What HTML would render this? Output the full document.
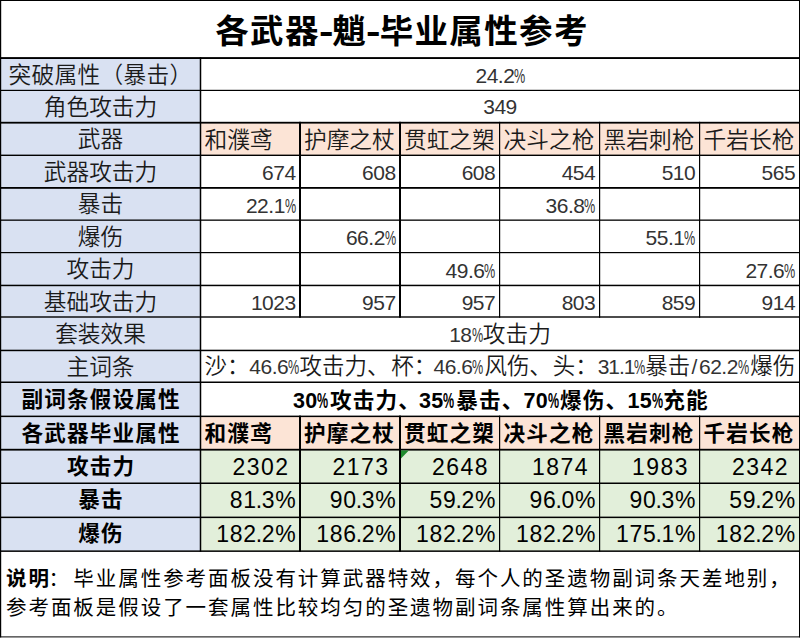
<!DOCTYPE html>
<html lang="zh-CN"><head><meta charset="utf-8"><title>各武器-魈-毕业属性参考</title>
<style>
html,body{margin:0;padding:0;background:#fff;}
body{width:801px;height:639px;position:relative;overflow:hidden;
 font-family:"Liberation Sans","Noto Sans CJK SC",sans-serif;color:#1a1a1a;}
svg{position:absolute;left:0;top:0;}
.c{position:absolute;display:flex;align-items:center;box-sizing:border-box;white-space:nowrap;line-height:1;}
.title{font-size:33.5px;font-weight:700;color:#000;letter-spacing:1.35px;}
.title .hy{display:inline-block;width:12.5px;text-align:center;letter-spacing:0;font-weight:700;transform:scaleX(1.3);}
.lab,.txt{font-size:22.7px;letter-spacing:0px;font-weight:350;}
.n{font-weight:400;color:#333;}
.bd{font-weight:700;color:#000;letter-spacing:1.15px;font-size:21.6px;}
.n{font-size:21px;letter-spacing:-0.5px;}
.nb{font-size:21.5px;letter-spacing:0.3px;}
.p{display:inline-block;font-style:normal;width:11.3px;transform:scaleX(0.6);transform-origin:0 50%;letter-spacing:0;}
.nb .p{width:11.5px;transform:scaleX(0.58);}
.gn{font-size:23px;letter-spacing:0.7px;color:#000;}
.note{position:absolute;white-space:nowrap;font-weight:400;font-size:20.5px;letter-spacing:1.95px;line-height:29px;color:#000;}
.note b{font-weight:700;}
.r10{font-size:22.45px;}
.r10 .n{letter-spacing:-0.5px;}
.r10 .p{width:11.3px;}
.sl{font-style:normal;}
.s{display:inline-block;}
.l1{letter-spacing:0.3px;}
.gi{letter-spacing:1.45px;}
.gn i{font-style:normal;margin-left:-1.0px;letter-spacing:-0.4px;}
</style></head>
<body>
<svg width="801" height="639" viewBox="0 0 801 639">
<rect x="0.60" y="58.05" width="199.90" height="493.10" fill="#D9E1F2"/>
<rect x="200.50" y="122.70" width="599.00" height="32.60" fill="#FCE4D6"/>
<rect x="200.50" y="416.35" width="599.00" height="33.35" fill="#FCE4D6"/>
<rect x="200.50" y="449.70" width="599.00" height="101.45" fill="#E2EFDA"/>
<rect x="0.00" y="0.00" width="800.00" height="1.00" fill="#000"/>
<rect x="0.00" y="57.10" width="800.00" height="1.90" fill="#000"/>
<rect x="0.00" y="89.80" width="800.00" height="1.20" fill="#000"/>
<rect x="0.00" y="121.80" width="800.00" height="1.80" fill="#000"/>
<rect x="0.00" y="154.60" width="800.00" height="1.40" fill="#000"/>
<rect x="0.00" y="187.00" width="800.00" height="1.80" fill="#000"/>
<rect x="0.00" y="219.50" width="800.00" height="1.30" fill="#000"/>
<rect x="0.00" y="252.00" width="800.00" height="1.20" fill="#000"/>
<rect x="0.00" y="284.70" width="800.00" height="1.50" fill="#000"/>
<rect x="0.00" y="316.30" width="800.00" height="1.40" fill="#000"/>
<rect x="0.00" y="349.70" width="800.00" height="1.50" fill="#000"/>
<rect x="0.00" y="381.50" width="800.00" height="1.50" fill="#000"/>
<rect x="0.00" y="415.60" width="800.00" height="1.50" fill="#000"/>
<rect x="0.00" y="448.80" width="800.00" height="1.80" fill="#000"/>
<rect x="0.00" y="482.50" width="800.00" height="1.50" fill="#000"/>
<rect x="0.00" y="516.60" width="800.00" height="1.50" fill="#000"/>
<rect x="0.00" y="550.40" width="800.00" height="1.50" fill="#000"/>
<rect x="0.00" y="636.40" width="800.00" height="1.00" fill="#000"/>
<rect x="0.00" y="0.00" width="1.20" height="637.40" fill="#000"/>
<rect x="799.00" y="0.00" width="1.00" height="637.40" fill="#000"/>
<rect x="199.75" y="57.10" width="1.50" height="494.80" fill="#000"/>
<rect x="299.00" y="121.80" width="2.00" height="195.90" fill="#000"/>
<rect x="299.00" y="415.60" width="2.00" height="136.30" fill="#000"/>
<rect x="399.00" y="121.80" width="2.00" height="195.90" fill="#000"/>
<rect x="399.00" y="415.60" width="2.00" height="136.30" fill="#000"/>
<rect x="499.00" y="121.80" width="1.20" height="195.90" fill="#000"/>
<rect x="499.00" y="415.60" width="1.20" height="136.30" fill="#000"/>
<rect x="599.00" y="121.80" width="1.20" height="195.90" fill="#000"/>
<rect x="599.00" y="415.60" width="1.20" height="136.30" fill="#000"/>
<rect x="699.00" y="121.80" width="1.20" height="195.90" fill="#000"/>
<rect x="699.00" y="415.60" width="1.20" height="136.30" fill="#000"/>
<path d="M401 450.6 L408.8 450.6 L401 458.6 Z" fill="#1f8b2f"/>
</svg>
<div class="c title" style="left:0.00px;width:800.00px;top:2.70px;height:57.55px;justify-content:center;margin-left:2.00px;">各武器<b class="hy">-</b>魈<b class="hy">-</b>毕业属性参考</div>
<div class="c lab l1" style="left:0.60px;width:199.90px;top:58.85px;height:32.35px;justify-content:center;">突破属性（暴击）</div>
<div class="c lab" style="left:0.60px;width:199.90px;top:91.20px;height:32.30px;justify-content:center;">角色攻击力</div>
<div class="c lab" style="left:0.60px;width:199.90px;top:123.50px;height:32.60px;justify-content:center;">武器</div>
<div class="c lab" style="left:0.60px;width:199.90px;top:156.10px;height:32.60px;justify-content:center;">武器攻击力</div>
<div class="c lab" style="left:0.60px;width:199.90px;top:188.70px;height:32.25px;justify-content:center;">暴击</div>
<div class="c lab" style="left:0.60px;width:199.90px;top:220.95px;height:32.45px;justify-content:center;">爆伤</div>
<div class="c lab" style="left:0.60px;width:199.90px;top:253.40px;height:32.85px;justify-content:center;">攻击力</div>
<div class="c lab" style="left:0.60px;width:199.90px;top:286.25px;height:31.55px;justify-content:center;">基础攻击力</div>
<div class="c lab" style="left:0.60px;width:199.90px;top:317.80px;height:33.45px;justify-content:center;">套装效果</div>
<div class="c lab" style="left:0.60px;width:199.90px;top:351.25px;height:31.80px;justify-content:center;">主词条</div>
<div class="c lab bd" style="left:0.60px;width:199.90px;top:382.65px;height:34.10px;justify-content:center;margin-left:0.50px;">副词条假设属性</div>
<div class="c lab bd" style="left:0.60px;width:199.90px;top:416.75px;height:33.35px;justify-content:center;margin-left:0.50px;">各武器毕业属性</div>
<div class="c lab bd" style="left:0.60px;width:199.90px;top:450.10px;height:33.55px;justify-content:center;margin-left:0.50px;">攻击力</div>
<div class="c lab bd" style="left:0.60px;width:199.90px;top:483.05px;height:34.10px;justify-content:center;margin-left:0.50px;">暴击</div>
<div class="c lab bd" style="left:0.60px;width:199.90px;top:517.15px;height:33.80px;justify-content:center;margin-left:0.50px;">爆伤</div>
<div class="c txt" style="left:200.50px;width:599.00px;top:59.05px;height:32.35px;justify-content:center;margin-left:0.60px;"><span class="n">24.2<i class="p">%</i></span></div>
<div class="c txt" style="left:200.50px;width:599.00px;top:90.80px;height:32.30px;justify-content:center;"><span class="n">349</span></div>
<div class="c txt" style="left:200.50px;width:99.50px;top:124.20px;height:32.60px;justify-content:flex-start;padding-left:4.00px;">和濮鸢</div>
<div class="c txt bd" style="left:200.50px;width:99.50px;top:416.75px;height:33.35px;justify-content:flex-start;padding-left:4.00px;">和濮鸢</div>
<div class="c txt" style="left:300.00px;width:100.00px;top:124.20px;height:32.60px;justify-content:flex-start;padding-left:4.00px;">护摩之杖</div>
<div class="c txt bd" style="left:300.00px;width:100.00px;top:416.75px;height:33.35px;justify-content:flex-start;padding-left:4.00px;">护摩之杖</div>
<div class="c txt" style="left:400.00px;width:99.60px;top:124.20px;height:32.60px;justify-content:flex-start;padding-left:4.00px;">贯虹之槊</div>
<div class="c txt bd" style="left:400.00px;width:99.60px;top:416.75px;height:33.35px;justify-content:flex-start;padding-left:4.00px;">贯虹之槊</div>
<div class="c txt" style="left:499.60px;width:100.00px;top:124.20px;height:32.60px;justify-content:flex-start;padding-left:4.00px;">决斗之枪</div>
<div class="c txt bd" style="left:499.60px;width:100.00px;top:416.75px;height:33.35px;justify-content:flex-start;padding-left:4.00px;">决斗之枪</div>
<div class="c txt" style="left:599.60px;width:100.00px;top:124.20px;height:32.60px;justify-content:flex-start;padding-left:4.00px;">黑岩刺枪</div>
<div class="c txt bd" style="left:599.60px;width:100.00px;top:416.75px;height:33.35px;justify-content:flex-start;padding-left:4.00px;">黑岩刺枪</div>
<div class="c txt" style="left:699.60px;width:99.90px;top:124.20px;height:32.60px;justify-content:flex-start;padding-left:4.00px;">千岩长枪</div>
<div class="c txt bd" style="left:699.60px;width:99.90px;top:416.75px;height:33.35px;justify-content:flex-start;padding-left:4.00px;">千岩长枪</div>
<div class="c txt" style="left:200.50px;width:99.50px;top:156.30px;height:32.60px;justify-content:flex-end;padding-right:4.40px;"><span class="n">674</span></div>
<div class="c txt" style="left:300.00px;width:100.00px;top:156.30px;height:32.60px;justify-content:flex-end;padding-right:4.40px;"><span class="n">608</span></div>
<div class="c txt" style="left:400.00px;width:99.60px;top:156.30px;height:32.60px;justify-content:flex-end;padding-right:4.40px;"><span class="n">608</span></div>
<div class="c txt" style="left:499.60px;width:100.00px;top:156.30px;height:32.60px;justify-content:flex-end;padding-right:4.40px;"><span class="n">454</span></div>
<div class="c txt" style="left:599.60px;width:100.00px;top:156.30px;height:32.60px;justify-content:flex-end;padding-right:4.40px;"><span class="n">510</span></div>
<div class="c txt" style="left:699.60px;width:99.90px;top:156.30px;height:32.60px;justify-content:flex-end;padding-right:4.40px;"><span class="n">565</span></div>
<div class="c txt" style="left:200.50px;width:99.50px;top:188.90px;height:32.25px;justify-content:flex-end;padding-right:3.90px;"><span class="n">22.1<i class="p">%</i></span></div>
<div class="c txt" style="left:499.60px;width:100.00px;top:188.90px;height:32.25px;justify-content:flex-end;padding-right:3.90px;"><span class="n">36.8<i class="p">%</i></span></div>
<div class="c txt" style="left:300.00px;width:100.00px;top:221.15px;height:32.45px;justify-content:flex-end;padding-right:3.90px;"><span class="n">66.2<i class="p">%</i></span></div>
<div class="c txt" style="left:599.60px;width:100.00px;top:221.15px;height:32.45px;justify-content:flex-end;padding-right:3.90px;"><span class="n">55.1<i class="p">%</i></span></div>
<div class="c txt" style="left:400.00px;width:99.60px;top:253.60px;height:32.85px;justify-content:flex-end;padding-right:3.90px;"><span class="n">49.6<i class="p">%</i></span></div>
<div class="c txt" style="left:699.60px;width:99.90px;top:253.60px;height:32.85px;justify-content:flex-end;padding-right:3.90px;"><span class="n">27.6<i class="p">%</i></span></div>
<div class="c txt" style="left:200.50px;width:99.50px;top:286.45px;height:31.55px;justify-content:flex-end;padding-right:4.40px;"><span class="n">1023</span></div>
<div class="c txt" style="left:300.00px;width:100.00px;top:286.45px;height:31.55px;justify-content:flex-end;padding-right:4.40px;"><span class="n">957</span></div>
<div class="c txt" style="left:400.00px;width:99.60px;top:286.45px;height:31.55px;justify-content:flex-end;padding-right:4.40px;"><span class="n">957</span></div>
<div class="c txt" style="left:499.60px;width:100.00px;top:286.45px;height:31.55px;justify-content:flex-end;padding-right:4.40px;"><span class="n">803</span></div>
<div class="c txt" style="left:599.60px;width:100.00px;top:286.45px;height:31.55px;justify-content:flex-end;padding-right:4.40px;"><span class="n">859</span></div>
<div class="c txt" style="left:699.60px;width:99.90px;top:286.45px;height:31.55px;justify-content:flex-end;padding-right:4.40px;"><span class="n">914</span></div>
<div class="c txt" style="left:200.50px;width:599.00px;top:317.80px;height:33.45px;justify-content:center;"><span class="n">18<i class="p">%</i></span>攻击力</div>
<div class="c txt r10" style="left:200.50px;width:599.00px;top:351.25px;height:31.80px;justify-content:flex-start;padding-left:4.00px;"><span class="s" style="width:44.80px">沙：</span><span class="s" style="width:50.30px"><span class="n">46.6<i class="p">%</i></span></span><span class="s" style="width:91.65px">攻击力、</span><span class="s" style="width:42.25px">杯：</span><span class="s" style="width:51.00px"><span class="n">46.6<i class="p">%</i></span></span><span class="s" style="width:68.25px">风伤、</span><span class="s" style="width:45.00px">头：</span><span class="s" style="width:47.50px"><span class="n" style="letter-spacing:-1.1px">31.1<i class="p">%</i></span></span><span class="s" style="width:46.25px">暴击</span><span class="s" style="width:7.50px"><span class="n"><i class="sl">/</i></span></span><span class="s" style="width:51.25px"><span class="n">62.2<i class="p">%</i></span></span><span class="s" style="width:46.00px">爆伤</span></div>
<div class="c txt bd r11" style="left:200.50px;width:599.00px;top:383.75px;height:34.10px;justify-content:flex-start;padding-left:92.40px;"><span class="s" style="width:37.20px"><span class="nb">30<i class="p">%</i></span></span><span class="s" style="width:88.80px">攻击力、</span><span class="s" style="width:37.40px"><span class="nb">35<i class="p">%</i></span></span><span class="s" style="width:67.20px">暴击、</span><span class="s" style="width:36.60px"><span class="nb">70<i class="p">%</i></span></span><span class="s" style="width:67.40px">爆伤、</span><span class="s" style="width:35.80px"><span class="nb">15<i class="p">%</i></span></span><span class="s" style="width:46.00px">充能</span></div>
<div class="c gn gi" style="left:200.50px;width:99.50px;top:450.90px;height:33.55px;justify-content:flex-end;padding-right:10.60px;">2302</div>
<div class="c gn gi" style="left:300.00px;width:100.00px;top:450.90px;height:33.55px;justify-content:flex-end;padding-right:10.60px;">2173</div>
<div class="c gn gi" style="left:400.00px;width:99.60px;top:450.90px;height:33.55px;justify-content:flex-end;padding-right:10.60px;">2648</div>
<div class="c gn gi" style="left:499.60px;width:100.00px;top:450.90px;height:33.55px;justify-content:flex-end;padding-right:10.60px;">1874</div>
<div class="c gn gi" style="left:599.60px;width:100.00px;top:450.90px;height:33.55px;justify-content:flex-end;padding-right:10.60px;">1983</div>
<div class="c gn gi" style="left:699.60px;width:99.90px;top:450.90px;height:33.55px;justify-content:flex-end;padding-right:10.60px;">2342</div>
<div class="c gn" style="left:200.50px;width:99.50px;top:483.35px;height:34.10px;justify-content:flex-end;padding-right:3.50px;">81<i>.</i>3%</div>
<div class="c gn" style="left:300.00px;width:100.00px;top:483.35px;height:34.10px;justify-content:flex-end;padding-right:3.50px;">90<i>.</i>3%</div>
<div class="c gn" style="left:400.00px;width:99.60px;top:483.35px;height:34.10px;justify-content:flex-end;padding-right:3.50px;">59<i>.</i>2%</div>
<div class="c gn" style="left:499.60px;width:100.00px;top:483.35px;height:34.10px;justify-content:flex-end;padding-right:3.50px;">96<i>.</i>0%</div>
<div class="c gn" style="left:599.60px;width:100.00px;top:483.35px;height:34.10px;justify-content:flex-end;padding-right:3.50px;">90<i>.</i>3%</div>
<div class="c gn" style="left:699.60px;width:99.90px;top:483.35px;height:34.10px;justify-content:flex-end;padding-right:3.50px;">59<i>.</i>2%</div>
<div class="c gn" style="left:200.50px;width:99.50px;top:517.65px;height:33.80px;justify-content:flex-end;padding-right:3.50px;">182<i>.</i>2%</div>
<div class="c gn" style="left:300.00px;width:100.00px;top:517.65px;height:33.80px;justify-content:flex-end;padding-right:3.50px;">186<i>.</i>2%</div>
<div class="c gn" style="left:400.00px;width:99.60px;top:517.65px;height:33.80px;justify-content:flex-end;padding-right:3.50px;">182<i>.</i>2%</div>
<div class="c gn" style="left:499.60px;width:100.00px;top:517.65px;height:33.80px;justify-content:flex-end;padding-right:3.50px;">182<i>.</i>2%</div>
<div class="c gn" style="left:599.60px;width:100.00px;top:517.65px;height:33.80px;justify-content:flex-end;padding-right:3.50px;">175<i>.</i>1%</div>
<div class="c gn" style="left:699.60px;width:99.90px;top:517.65px;height:33.80px;justify-content:flex-end;padding-right:3.50px;">182<i>.</i>2%</div>
<div class="note" style="left:6px;top:564px"><b>说明</b><span style="margin-left:-2.5px;margin-right:2.5px">：</span>毕业属性参考面板没有计算武器特效，每个人的圣遗物副词条天差地别，<br>参考面板是假设了一套属性比较均匀的圣遗物副词条属性算出来的。</div>
</body></html>
